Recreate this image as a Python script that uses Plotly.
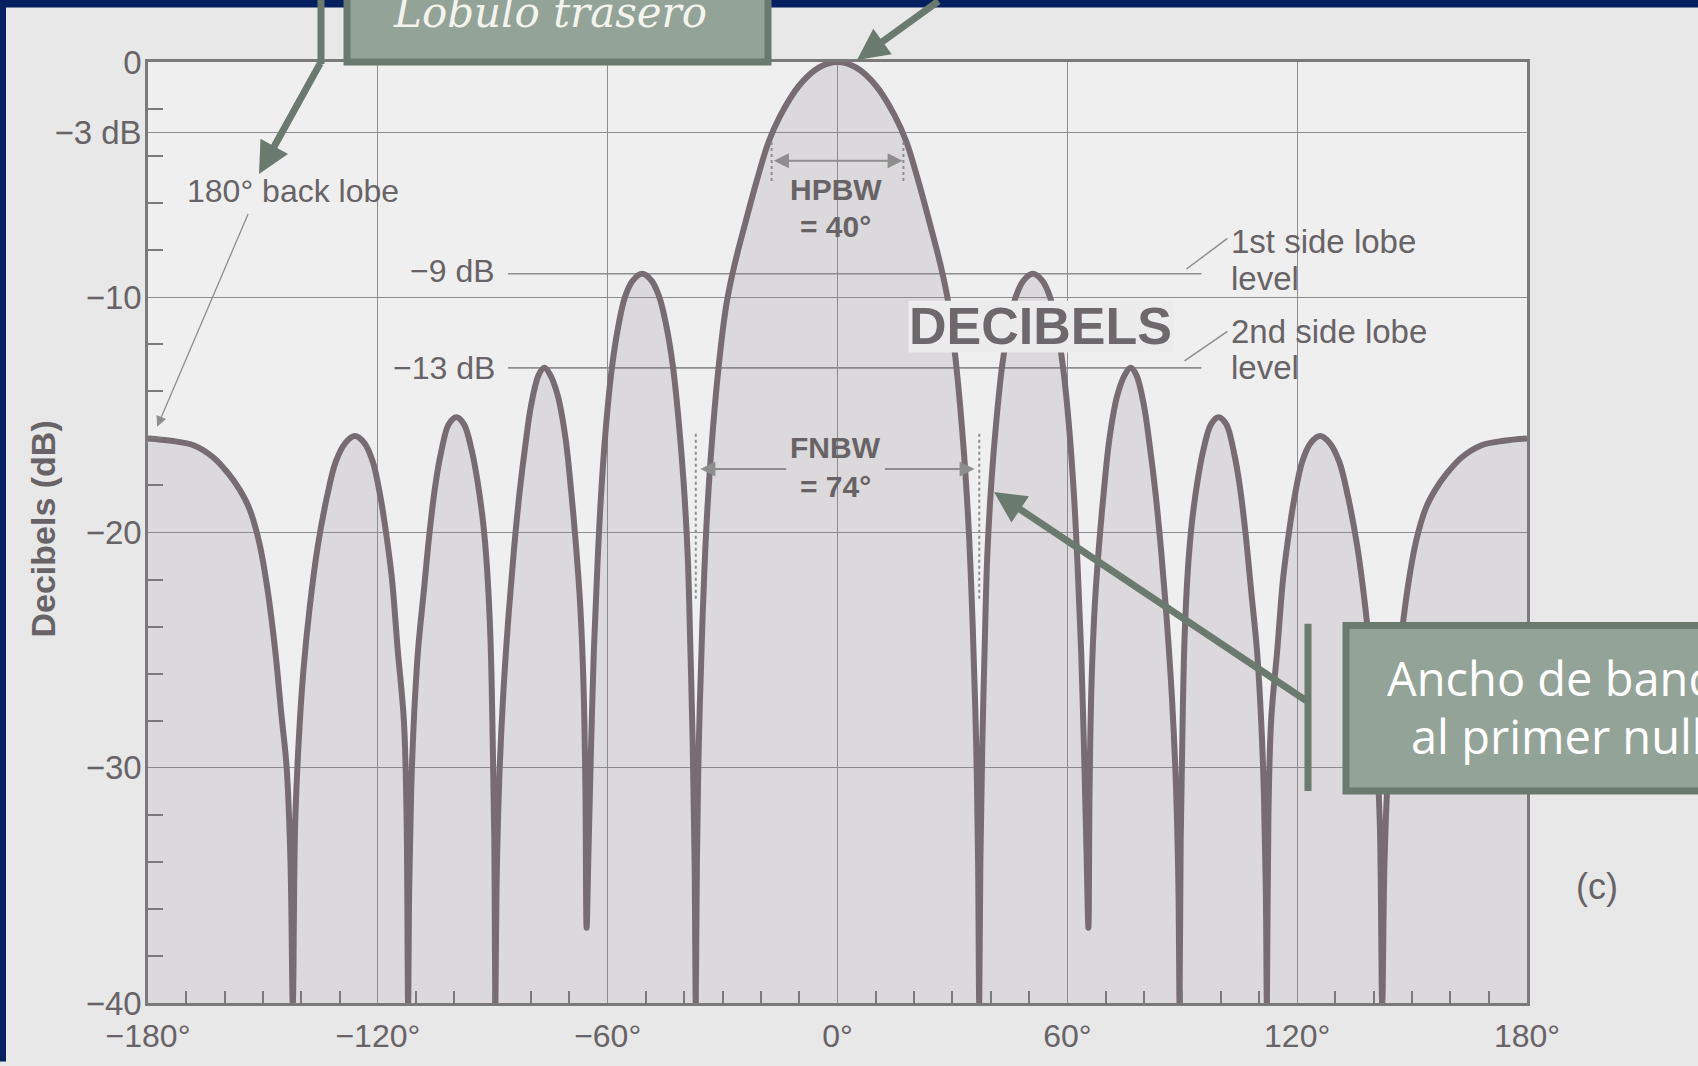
import plotly.graph_objects as go

# ---------------- data ----------------
# angle (deg) / level (dB), right half of the pattern (0 -> 180)
ANG_RIGHT = [0, 5, 10, 15, 18, 21, 24, 27, 29, 31, 33, 34.3, 35.3, 36.2, 36.7, 37,
             37.3, 37.8, 38.4, 39.1, 40.2, 41.5, 43, 44.7, 46.5, 48.5, 51, 53.5, 55.5, 57.3, 58.9, 60.5, 61.8, 62.7, 63.6, 64.4, 65, 65.5,
             65.8, 66.3, 67.2, 68.4, 69.5, 71, 73, 75, 76.5, 78, 80, 81.5, 83, 84.5, 86, 87.3, 88.3, 89, 89.3,
             89.6, 90.1, 90.6, 91.5, 92.5, 94, 95.5, 97.5, 99.5, 101.5, 103.5, 105, 106.5, 108, 109.5, 110.6, 111.3, 111.8, 112.1,
             112.5, 113.2, 114.8, 116.3, 117.6, 119.3, 121.3, 123.5, 126, 128.5, 131, 133.3, 135.7, 137.8, 139.5, 140.7, 141.6, 142.2,
             142.8, 143.8, 145.2, 146.8, 149, 151, 153.5, 156, 159, 163, 168, 174, 180]
DB_RIGHT = [0, -0.25, -1.0, -2.3, -3.4, -5.0, -6.8, -8.7, -10.3, -12.9, -16.6, -20, -24, -29, -34, -40,
            -34, -29, -25, -21, -17.8, -15.2, -12.9, -11.2, -10, -9.3, -9.0, -9.3, -10, -11.3, -13, -15.6, -18.6, -21.5, -25, -29.5, -33.5, -36.8,
            -31, -26.5, -23, -20.3, -18.3, -16, -14.2, -13.3, -13.0, -13.3, -14.6, -16.3, -18.3, -20.8, -23.8, -27, -30.5, -35, -40,
            -33, -28, -24.5, -21.5, -19.6, -17.8, -16.5, -15.4, -15.1, -15.4, -16.6, -18, -20, -22.5, -25, -28, -31, -35, -40,
            -32, -28, -25, -22, -20.3, -18.5, -17, -16.2, -15.9, -16.2, -17, -18.5, -20.6, -23.2, -26, -29, -32.5, -40,
            -34, -30, -27.7, -25, -22.2, -20.4, -19.0, -18.2, -17.5, -16.8, -16.3, -16.1, -16.0]

# left half of the pattern (-180 -> 0)
ANG_LEFT = [-180, -174, -168, -163, -159, -156, -153.5, -151, -149, -146.8, -145.2, -143.8, -142.8,
            -142.2, -141.6, -140.7, -139.5, -137.8, -135.7, -133.3, -131, -128.5, -126, -123.5, -121.3, -119.3, -117.6, -116.3, -114.8, -113.2, -112.5,
            -112.1, -111.8, -111.3, -110.6, -109.5, -108, -106.5, -105, -103.5, -101.5, -99.5, -97.5, -95.5, -94, -92.5, -91.5, -90.6, -90.1, -89.6,
            -89.3, -89, -88.3, -87.3, -86, -84.5, -83, -81.5, -80, -78, -76.5, -75, -73, -71, -69.5, -68.4, -67.2, -66.3, -65.8,
            -65.5, -65, -64.4, -63.6, -62.7, -61.8, -60.5, -58.9, -57.3, -55.5, -53.5, -51, -48.5, -46.5, -44.7, -43, -41.5, -40.2, -39.1, -38.4, -37.8, -37.3,
            -37, -36.7, -36.2, -35.3, -34.3, -33, -31, -29, -27, -24, -21, -18, -15, -10, -5]
DB_LEFT = [-16.0, -16.1, -16.3, -16.8, -17.5, -18.2, -19.0, -20.4, -22.2, -25, -27.7, -30, -34,
           -40, -32.5, -29, -26, -23.2, -20.6, -18.5, -17, -16.2, -15.9, -16.2, -17, -18.5, -20.3, -22, -25, -28, -32,
           -40, -35, -31, -28, -25, -22.5, -20, -18, -16.6, -15.4, -15.1, -15.4, -16.5, -17.8, -19.6, -21.5, -24.5, -28, -33,
           -40, -35, -30.5, -27, -23.8, -20.8, -18.3, -16.3, -14.6, -13.3, -13.0, -13.3, -14.2, -16, -18.3, -20.3, -23, -26.5, -31,
           -36.8, -33.5, -29.5, -25, -21.5, -18.6, -15.6, -13, -11.3, -10, -9.3, -9.0, -9.3, -10, -11.2, -12.9, -15.2, -17.8, -21, -25, -29, -34,
           -40, -34, -29, -24, -20, -16.6, -12.9, -10.3, -8.7, -6.8, -5.0, -3.4, -2.3, -1.0, -0.25]

ANGLES = ANG_LEFT + ANG_RIGHT
LEVELS = DB_LEFT + DB_RIGHT

X_TICKS = [-180, -120, -60, 0, 60, 120, 180]
X_TICK_TEXT = ["−180°", "−120°", "−60°", "0°", "60°", "120°", "180°"]
Y_TICKS = [0, -3, -10, -20, -30, -40]
Y_TICK_TEXT = ["0", "−3 dB", "−10", "−20", "−30", "−40"]
Y_MINOR = [-2, -4, -6, -8, -12, -14, -16, -18, -22, -24, -26, -28, -32, -34, -36, -38]
X_MINOR = [-170, -160, -150, -140, -130, -110, -100, -90, -80, -70, -50, -40, -30, -20, -10,
           10, 20, 30, 40, 50, 70, 80, 90, 100, 110, 130, 140, 150, 160, 170]

# ---------------- layout constants ----------------
W, H = 1698, 1066
ML, MR, MT, MB = 148, 171, 62, 54
PW, PH = W - ML - MR, H - MT - MB


def px(X):
    return (X - ML) / PW


def py(Y):
    return (H - MB - Y) / PH


INK = "#766C72"
GRID = "#8E8E8E"
TXT = "#676366"
NAVY = "#04205F"
SAGE = "#93A397"
SAGE_D = "#6B7A6F"
FONT = "Liberation Sans, Arial, sans-serif"

fig = go.Figure()
fig.add_trace(go.Scatter(x=[-180, 180], y=[-40, -40], mode="lines",
                         line=dict(width=0), showlegend=False, hoverinfo="skip"))
fig.add_trace(go.Scatter(x=ANGLES, y=LEVELS, mode="lines", fill="tonexty",
                         fillcolor="rgba(140,130,140,0.20)",
                         line=dict(color=INK, width=6, shape="spline", smoothing=1.0),
                         showlegend=False))

shapes = []
# -9 dB / -13 dB reference lines
for lvl in (-9, -13):
    shapes.append(dict(type="line", xref="x", yref="y", x0=-86, x1=95, y0=lvl, y1=lvl,
                       line=dict(color=GRID, width=1.6), layer="below"))
# HPBW dashed markers
for a in (-17.2, 17.2):
    shapes.append(dict(type="line", xref="x", yref="y", x0=a, x1=a, y0=-3.4, y1=-5.1,
                       line=dict(color=GRID, width=2, dash="dot")))
# FNBW dashed markers
for a in (-37, 37):
    shapes.append(dict(type="line", xref="x", yref="y", x0=a, x1=a, y0=-15.8, y1=-22.9,
                       line=dict(color=GRID, width=2, dash="dot")))
# leader lines for side-lobe labels
shapes.append(dict(type="line", xref="x", yref="y", x0=91.1, y0=-8.8, x1=101.8, y1=-7.5,
                   line=dict(color=GRID, width=1.5)))
shapes.append(dict(type="line", xref="x", yref="y", x0=90.6, y0=-12.7, x1=101.8, y1=-11.45,
                   line=dict(color=GRID, width=1.5)))
# knockout behind DECIBELS
shapes.append(dict(type="rect", xref="x", yref="y", x0=18.5, x1=87.8, y0=-10.15, y1=-12.35,
                   fillcolor="#ECECEC", line=dict(width=0), layer="above"))
# navy slide frame
shapes.append(dict(type="rect", xref="paper", yref="paper", x0=px(0), x1=px(W), y0=py(7), y1=py(-5),
                   fillcolor=NAVY, line=dict(width=0), layer="above"))
shapes.append(dict(type="rect", xref="paper", yref="paper", x0=px(-5), x1=px(6), y0=py(H + 5), y1=py(0),
                   fillcolor=NAVY, line=dict(width=0), layer="above"))
# callout box top ("Lobulo trasero")
shapes.append(dict(type="rect", xref="paper", yref="paper", x0=px(347), x1=px(768), y0=py(62), y1=py(-30),
                   fillcolor=SAGE, line=dict(color=SAGE_D, width=7), layer="above"))
shapes.append(dict(type="line", xref="paper", yref="paper", x0=px(321), x1=px(321), y0=py(-5), y1=py(64),
                   line=dict(color=SAGE_D, width=7), layer="above"))
# callout box right ("Ancho de banda ...")
shapes.append(dict(type="rect", xref="paper", yref="paper", x0=px(1346), x1=px(1730), y0=py(798), y1=py(631),
                   fillcolor=SAGE, line=dict(color=SAGE_D, width=7), layer="above"))
shapes.append(dict(type="line", xref="paper", yref="paper", x0=px(1308), x1=px(1308), y0=py(629), y1=py(798),
                   line=dict(color=SAGE_D, width=7), layer="above"))

ann = []


def txt(x, y, text, size=30, color=TXT, bold=False, xanchor="center", xref="x", yref="y", family=FONT, **kw):
    t = f"<b>{text}</b>" if bold else text
    ann.append(dict(x=x, y=y, xref=xref, yref=yref, text=t, showarrow=False, xanchor=xanchor,
                    yanchor="middle", font=dict(size=size, color=color, family=family), **kw))


txt(-142.2, -5.47, "180° back lobe", size=32)
txt(-88.8, -8.9, "−9 dB", size=32, xanchor="right")
txt(-88.8, -13.0, "−13 dB", size=32, xanchor="right")
txt(-0.5, -5.4, "HPBW", size=30, bold=True)
txt(-0.5, -7.0, "= 40°", size=30, bold=True)
txt(-0.5, -16.4, "FNBW", size=30, bold=True)
txt(-0.5, -18.05, "= 74°", size=30, bold=True)
txt(53.1, -11.22, "DECIBELS", size=52, bold=True, color="#6E686C")
txt(102.3, -7.62, "1st side lobe", size=33, xanchor="left")
txt(102.3, -9.2, "level", size=33, xanchor="left")
txt(102.3, -11.45, "2nd side lobe", size=33, xanchor="left")
txt(102.3, -13.0, "level", size=33, xanchor="left")
txt(px(1597), py(894), "(c)", size=36, xref="paper", yref="paper")
txt(px(43), py(533), "Decibels (dB)", size=34, bold=True, xref="paper", yref="paper", textangle=-90)
# callout texts
txt(px(550), py(12), "<i>Lobulo trasero</i>", size=42, color="#F4F4EE", xref="paper", yref="paper",
    family="DejaVu Serif, serif")
txt(px(1385), py(684), "Ancho de banda", size=47, color="#FFFFFF", xanchor="left",
    xref="paper", yref="paper", family="Open Sans, Noto Sans, sans-serif")
txt(px(1409), py(742), "al primer null", size=47, color="#FFFFFF", xanchor="left",
    xref="paper", yref="paper", family="Open Sans, Noto Sans, sans-serif")

# arrows
ann.append(dict(x=-177.6, y=-15.5, ax=-153.7, ay=-6.4, xref="x", yref="y", axref="x", ayref="y",
                text="", showarrow=True, arrowhead=2, arrowsize=1.6, arrowwidth=1.3, arrowcolor=GRID))
ann.append(dict(x=17, y=-4.2, ax=-17, ay=-4.2, xref="x", yref="y", axref="x", ayref="y",
                text="", showarrow=True, arrowhead=2, arrowside="end+start", arrowsize=1.5,
                arrowwidth=2, arrowcolor=GRID))
ann.append(dict(x=-35.8, y=-17.3, ax=-13, ay=-17.3, xref="x", yref="y", axref="x", ayref="y",
                text="", showarrow=True, arrowhead=2, arrowsize=1.5, arrowwidth=2, arrowcolor=GRID))
ann.append(dict(x=35.8, y=-17.3, ax=12, ay=-17.3, xref="x", yref="y", axref="x", ayref="y",
                text="", showarrow=True, arrowhead=2, arrowsize=1.5, arrowwidth=2, arrowcolor=GRID))
# slide callout arrows (pixel offsets)
ann.append(dict(x=px(259), y=py(175), xref="paper", yref="paper", ax=321 - 259, ay=63 - 175,
                text="", showarrow=True, arrowhead=2, arrowsize=0.9, arrowwidth=7, arrowcolor=SAGE_D))
ann.append(dict(x=px(857), y=py(60), xref="paper", yref="paper", ax=940 - 857, ay=-12 - 60,
                text="", showarrow=True, arrowhead=2, arrowsize=0.9, arrowwidth=7, arrowcolor=SAGE_D))
ann.append(dict(x=px(994), y=py(496), xref="paper", yref="paper", ax=1308 - 994, ay=706 - 496,
                text="", showarrow=True, arrowhead=2, arrowsize=0.9, arrowwidth=7, arrowcolor=SAGE_D))

fig.update_layout(
    width=W, height=H, autosize=False,
    margin=dict(l=ML, r=MR, t=MT, b=MB, pad=0),
    paper_bgcolor="#E8E8E8", plot_bgcolor="#EFEFEF",
    shapes=shapes, annotations=ann, showlegend=False,
    font=dict(family=FONT, color=TXT),
)
fig.update_xaxes(range=[-180, 180], tickmode="array", tickvals=X_TICKS, ticktext=X_TICK_TEXT,
                 showgrid=True, gridcolor=GRID, gridwidth=1.4, zeroline=False,
                 showline=True, linecolor="#7A7A7A", linewidth=2.5, mirror=True,
                 ticks="", tickfont=dict(size=32, color=TXT, family=FONT), ticklabelstandoff=3,
                 minor=dict(tickmode="array", tickvals=X_MINOR, ticks="inside", ticklen=12,
                            tickwidth=2, tickcolor="#7A7A7A", showgrid=False))
fig.update_yaxes(range=[-40, 0], tickmode="array", tickvals=Y_TICKS, ticktext=Y_TICK_TEXT,
                 showgrid=True, gridcolor=GRID, gridwidth=1.4, zeroline=False,
                 showline=True, linecolor="#7A7A7A", linewidth=2.5, mirror=True,
                 ticks="", tickfont=dict(size=33, color=TXT, family=FONT), ticklabelstandoff=-3,
                 minor=dict(tickmode="array", tickvals=Y_MINOR, ticks="inside", ticklen=15,
                            tickwidth=2, tickcolor="#7A7A7A", showgrid=False))

fig.write_html("out.html")
